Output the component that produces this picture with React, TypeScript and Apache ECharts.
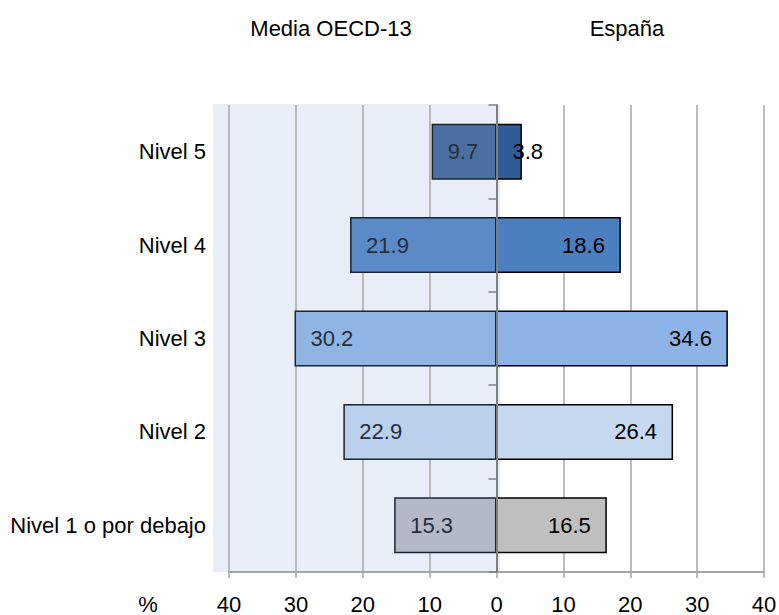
import React, { useEffect, useRef } from "react";
import * as echarts from "echarts";

const categories = ["Nivel 5", "Nivel 4", "Nivel 3", "Nivel 2", "Nivel 1 o por debajo"];
const oecdValues = [9.7, 21.9, 30.2, 22.9, 15.3];
const espanaValues = [3.8, 18.6, 34.6, 26.4, 16.5];
const oecdColors = ["#4a70a3", "#5a8bc8", "#8fb5e5", "#bad0ec", "#b3bac5"];
const espanaColors = ["#305d96", "#4b7fbf", "#8db3e7", "#c6d9f1", "#bfbfbf"];
const xTicks = [-40, -30, -20, -10, 0, 10, 20, 30, 40];

const FONT = "'Liberation Sans', Arial, sans-serif";

export default function App() {
  const ref = useRef<HTMLDivElement>(null);
  useEffect(() => {
    if (!ref.current) return;
    const chart = echarts.init(ref.current, undefined, { renderer: "svg" });
    const option: any = {
      animation: false,
      textStyle: { fontFamily: FONT },
      grid: { left: 229, right: 15, top: 105, bottom: 43, containLabel: false, outerBoundsMode: "none" },
      graphic: [
        { type: "rect", left: 213, top: 104, z: -10, shape: { width: 287, height: 468 }, style: { fill: "#e8eef8" } },
        { type: "text", x: 331, y: 28, style: { text: "Media OECD-13", font: `22px ${FONT}`, fill: "#000", textAlign: "center", textVerticalAlign: "middle" } },
        { type: "text", x: 627, y: 28, style: { text: "España", font: `22px ${FONT}`, fill: "#000", textAlign: "center", textVerticalAlign: "middle" } },
        { type: "text", x: 148, y: 604, style: { text: "%", font: `22px ${FONT}`, fill: "#000", textAlign: "center", textVerticalAlign: "middle" } },
      ],
      xAxis: {
        type: "value",
        min: xTicks[0],
        max: xTicks[xTicks.length - 1],
        interval: 10,
        axisLine: { show: true, lineStyle: { color: "#a6a6a6", width: 2 } },
        axisTick: { show: true, length: 6, lineStyle: { color: "#a6a6a6", width: 1.5 } },
        splitLine: { show: true, lineStyle: { color: "#a6a6a6", width: 1.5 } },
        axisLabel: { fontSize: 22, color: "#000", fontFamily: FONT, margin: 21, formatter: (v: number) => String(Math.abs(v)) },
      },
      yAxis: [
        {
          type: "category",
          data: categories,
          inverse: true,
          position: "left",
          axisLine: { show: false, onZero: false },
          axisTick: { show: false },
          axisLabel: { fontSize: 22, color: "#000", fontFamily: FONT, margin: 23 },
        },
        {
          type: "category",
          data: categories,
          inverse: true,
          position: "left",
          z: 10,
          axisLine: { show: true, onZero: true, lineStyle: { color: "#7f7f7f", width: 2 } },
          axisTick: { show: true, length: 8, lineStyle: { color: "#7f7f7f", width: 1.5 } },
          axisLabel: { show: false },
        },
      ],
      series: [
        {
          name: "Media OECD-13",
          type: "bar",
          stack: "total",
          yAxisIndex: 0,
          barWidth: 56,
          data: oecdValues.map((v, i) => ({ value: -v, itemStyle: { color: oecdColors[i] } })),
          itemStyle: { borderColor: "#1c2433", borderWidth: 1.5 },
          label: {
            show: true,
            position: "insideLeft",
            distance: 16,
            fontSize: 22,
            fontFamily: FONT,
            color: "#262e3b",
            formatter: (p: any) => Math.abs(p.value).toFixed(1),
          },
        },
        {
          name: "España",
          type: "bar",
          stack: "total",
          yAxisIndex: 0,
          barWidth: 56,
          data: espanaValues.map((v, i) => ({
            value: v,
            itemStyle: { color: espanaColors[i] },
            label: { position: v < 8 ? "insideLeft" : "insideRight" },
          })),
          itemStyle: { borderColor: "#000", borderWidth: 1.5 },
          label: {
            show: true,
            position: "insideRight",
            distance: 16,
            fontSize: 22,
            fontFamily: FONT,
            color: "#000",
            formatter: (p: any) => Number(p.value).toFixed(1),
          },
        },
      ],
    };
    chart.setOption(option);
    return () => chart.dispose();
  }, []);
  return <div ref={ref} style={{ position: "absolute", left: 0, top: 0, width: 779, height: 615 }} />;
}
